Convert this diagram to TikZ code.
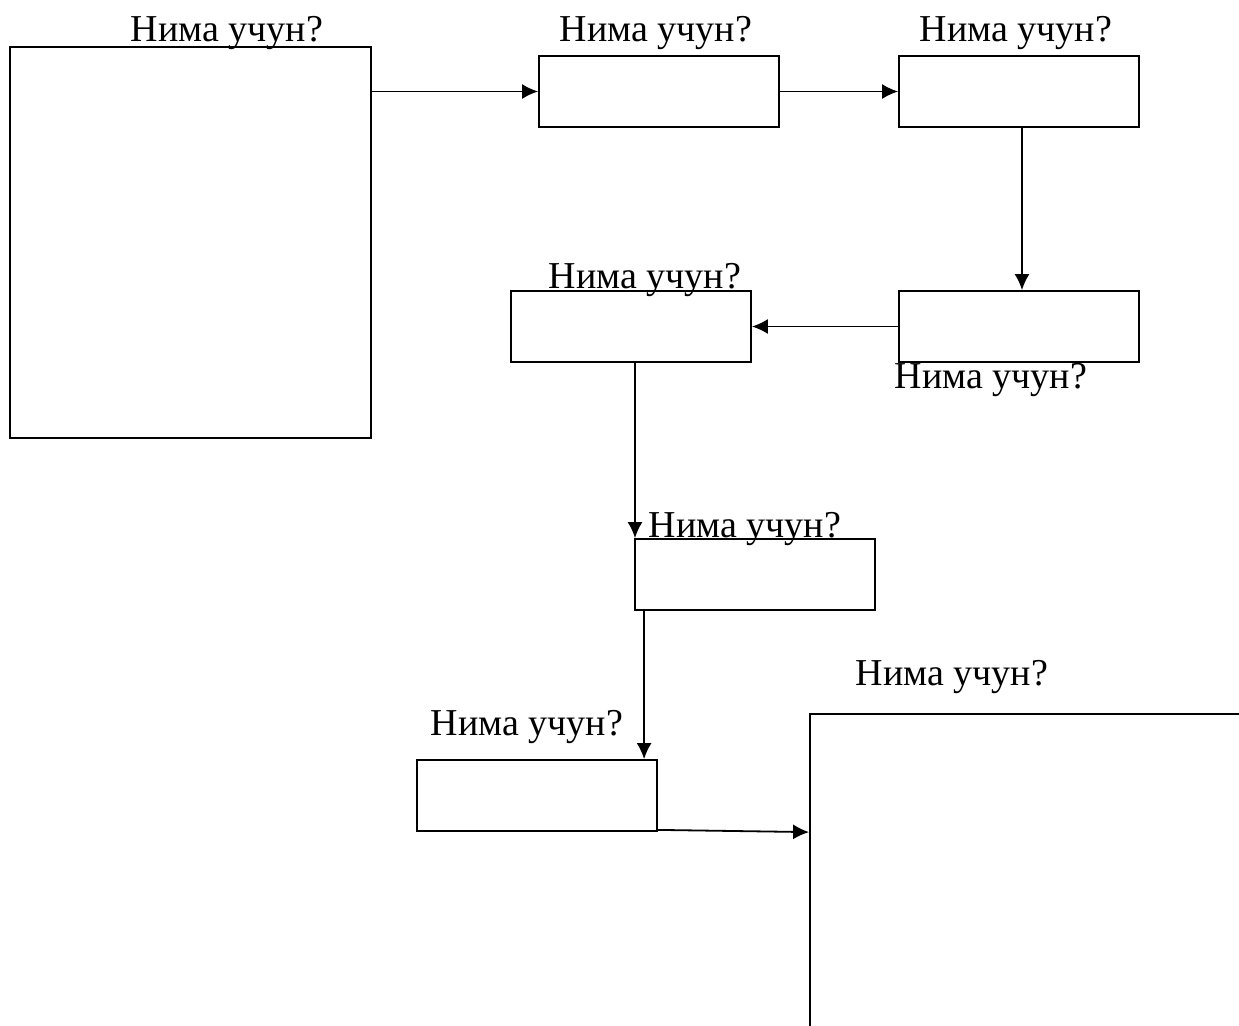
\documentclass[tikz,border=0pt]{standalone}
\usepackage{fontspec}
\setmainfont{Liberation Serif}
\usetikzlibrary{arrows.meta}

\begin{document}
\begin{tikzpicture}[x=1pt,y=-1pt,line width=1.8pt,
                every path/.style={>={Latex[length=16pt,width=15pt]}},
                box/.style={draw,rectangle,inner sep=0pt,minimum width=240pt,minimum height=71pt},
                lbl/.style={anchor=base,inner sep=0pt,font=\fontsize{38}{46}\selectfont}]
  \useasboundingbox (0,0) rectangle (1239,1025);
  \clip (0,0) rectangle (1239,1025);
  \node[box,minimum width=361pt,minimum height=391pt] (a) at (190.5,242.5) {};
  \node[box]       (b) at (659,91.5)   {};
  \node[box]       (c) at (1019,91.5)  {};
  \node[box]       (d) at (1019,326.5) {};
  \node[box]       (e) at (631,326.5)  {};
  \node[box]       (f) at (755,574.5)  {};
  \node[box]       (g) at (537,795.5)  {};
  \node[box,minimum width=500pt,minimum height=400pt] (h) at (1060,914) {};
  % labels
  \node[lbl]       (la) at (227,42)  {Нима учун?};
  \node[lbl]       (lb) at (656,42)  {Нима учун?};
  \node[lbl]       (lc) at (1016,42) {Нима учун?};
  \node[lbl]       (le) at (645,288) {Нима учун?};
  \node[lbl]       (ld) at (991,388) {Нима учун?};
  \node[lbl]       (lf) at (745,537) {Нима учун?};
  \node[lbl]       (lg) at (527,735) {Нима учун?};
  \node[lbl]       (lh) at (952,685) {Нима учун?};
  % arrows
  \draw[->] (a.east |- b.west) -- (b.west);
  \draw[->] (b) -- (c);
  \draw[->] ([xshift=3pt]c.south) -- ([xshift=3pt]d.north);
  \draw[->] (d) -- (e);
  \draw[->] ([xshift=4pt]e.south) -- ([xshift=4pt]e.south |- f.north);
  \draw[->] ([xshift=10pt]f.south west) -- ([xshift=10pt]f.south west |- g.north);
  \draw[->] ([yshift=2pt]g.south east) -- ([yshift=-119pt]h.north west);
\end{tikzpicture}
\end{document}
